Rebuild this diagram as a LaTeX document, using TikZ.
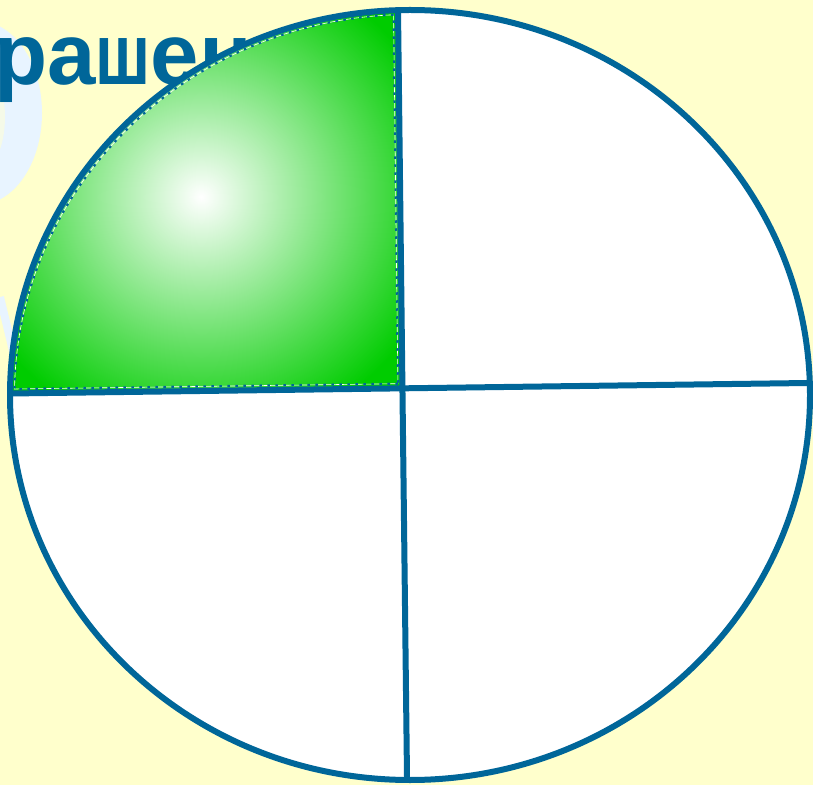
\documentclass[tikz,border=0pt]{standalone}
\usepackage{fontspec}
\setmainfont{Liberation Sans}
\usetikzlibrary{positioning}
\definecolor{bgyellow}{HTML}{FFFFCC}
\definecolor{lineblue}{HTML}{006699}
\definecolor{paleblue}{HTML}{E8F4FF}
\definecolor{paleyellow}{HTML}{F5FAE8}
\definecolor{quadgreen}{HTML}{00CC00}
\pgfdeclareradialshading{quadglow}{\pgfpoint{0bp}{0bp}}{%
  color(0bp)=(white); color(31bp)=(quadgreen); color(50bp)=(quadgreen)}

\begin{document}
\begin{tikzpicture}[x=1pt, y=1pt,
  divider/.style={draw=lineblue, line width=6pt},
  title/.style={anchor=base west, inner sep=0pt, text=lineblue,
    font=\fontsize{87}{92}\selectfont\bfseries}]

% Background
\useasboundingbox (0,0) rectangle (813,785);
\clip (0,0) rectangle (813,785);
\fill[bgyellow] (0,0) rectangle (813,785);

% faint shapes at the left edge
\fill[paleblue] (-22,672) ellipse [x radius=64, y radius=92];
\fill[paleyellow] (-22,668) ellipse [x radius=27, y radius=56];
\draw[paleblue, line width=8pt] (0,488) -- (14,430);

% Heading, mostly hidden
\node[title] (word) at (-6,700) {ра\scalebox{0.76}[1]{ш}ен};

% ========== Circle ==========
\coordinate (west) at (10,391.5);
\coordinate (east) at (808,402);
\coordinate (north) at (398,775);
\coordinate (south) at (407,8);
\coordinate (mid) at (402.4,396.7);

\fill[white] (410,390) ellipse [x radius=400, y radius=385];

% Shaded quarter
\begin{scope}
  \clip (410,390) ellipse [x radius=400, y radius=385];
  \shade[shading=quadglow] (mid) -- (west) -- (0,391.5) -- (0,785) -- (398,785) -- (north) -- cycle;
\end{scope}
\draw[white, line width=0.6pt] (397.9,401.3) -- (14.55,396)
  arc[start angle=179.1, end angle=92.38, x radius=395.5, y radius=380.5] -- cycle;
\draw[lineblue, line width=2.2pt, dash pattern=on 2.5pt off 5.5pt] (397.9,401.3) -- (14.55,396)
  arc[start angle=179.1, end angle=92.38, x radius=395.5, y radius=380.5] -- cycle;

% Dividers
\draw[divider] (west) -- (east);
\draw[divider] (north) -- (south);

% Outline
\draw[lineblue, line width=6pt] (410,390) ellipse [x radius=400, y radius=385];

\end{tikzpicture}
\end{document}
